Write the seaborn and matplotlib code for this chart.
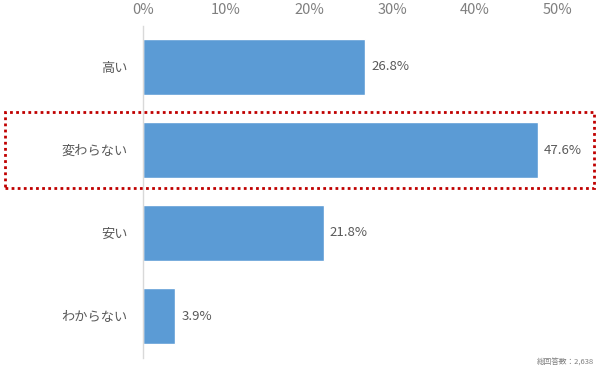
import matplotlib
matplotlib.use("Agg")
import matplotlib.pyplot as plt
import matplotlib.patches as patches
import pandas as pd
import seaborn as sns

categories = ["高い", "変わらない", "安い", "わからない"]
values = [26.8, 47.6, 21.8, 3.9]
x_ticks = [0, 10, 20, 30, 40, 50]
note = "総回答数：2,638"

sns.set_style("white")
plt.rcParams["font.family"] = ["Noto Sans CJK JP", "DejaVu Sans"]

df = pd.DataFrame({"category": categories, "value": values})

fig = plt.figure(figsize=(6, 3.72), dpi=100)
ax = fig.add_axes([143 / 600, 1 - 357.5 / 372, 415 / 600, 332 / 372])

sns.barplot(data=df, y="category", x="value", orient="h", color="#5b9bd5",
            saturation=1, width=0.67, ax=ax)

ax.set_xlim(0, 50)
ax.set_ylim(3.5, -0.5)
ax.xaxis.tick_top()
ax.set_xticks(x_ticks)
ax.set_xticklabels([f"{t}%" for t in x_ticks])
ax.tick_params(axis="x", length=0, pad=6, labelsize=10.5, labelcolor="#7f7f7f")
ax.tick_params(axis="y", length=0, pad=11, labelsize=9.5, labelcolor="#595959")
ax.set_xlabel("")
ax.set_ylabel("")
for side in ["top", "right", "bottom"]:
    ax.spines[side].set_visible(False)
ax.spines["left"].set_color("#d9d9d9")
ax.spines["left"].set_linewidth(1)

for i, v in enumerate(values):
    ax.text(v + 0.7, i, f"{v:.1f}%", va="center", ha="left",
            fontsize=9.5, color="#595959")

# dotted highlight box around the middle answer
rect = patches.Rectangle((5 / 600, 1 - 188 / 372), 589 / 600, 76 / 372,
                         transform=fig.transFigure, fill=False,
                         edgecolor="#c00000", linestyle=(0, (1, 1.2)),
                         linewidth=2, clip_on=False)
fig.patches.append(rect)

fig.text(594 / 600, 1 - 363 / 372, note, ha="right", va="center",
         fontsize=5.5, color="#7f7f7f")

fig.savefig("out.png", dpi=100)
